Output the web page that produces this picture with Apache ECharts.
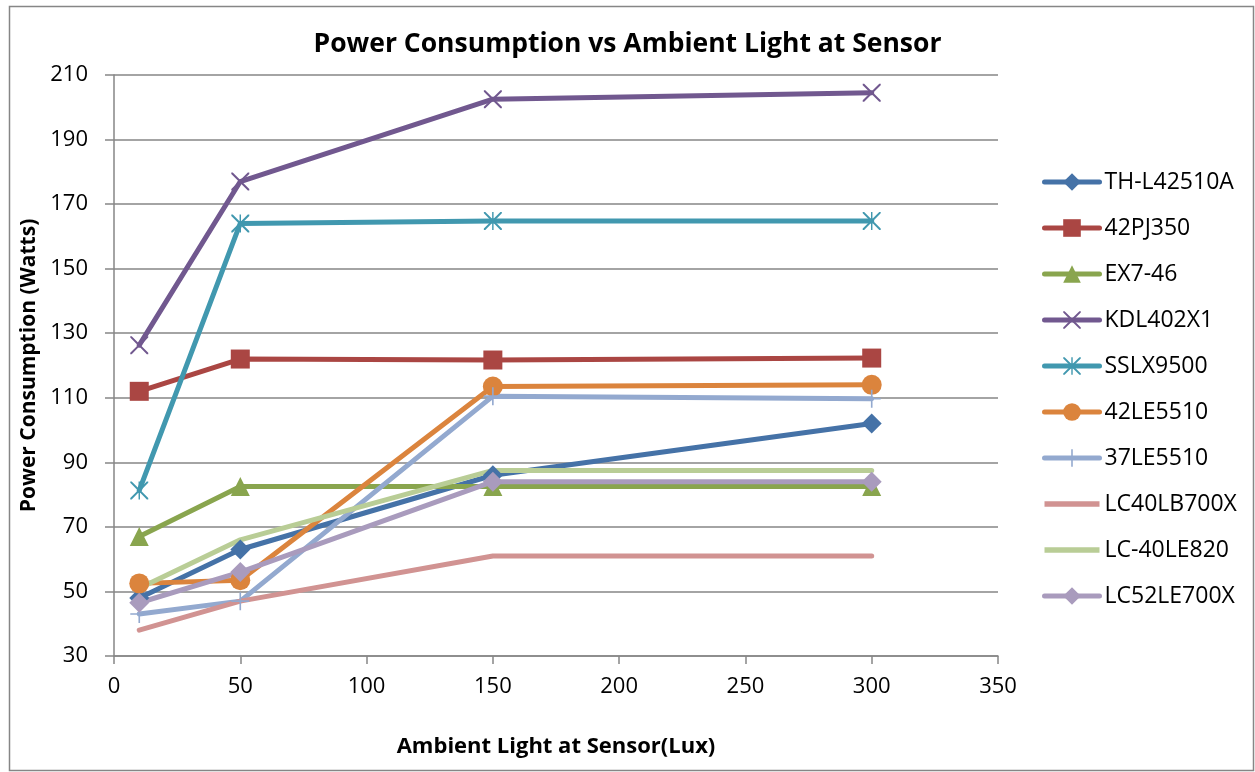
<!DOCTYPE html>
<html><head><meta charset="utf-8">
<script src="https://cdn.jsdelivr.net/npm/echarts@6/dist/echarts.min.js"></script>
<style>html,body{margin:0;padding:0;background:#fff}#c{width:1255px;height:772px}</style>
</head><body><div id="c"></div>
<script>
// ---- data ----
const lux = [10, 50, 150, 300];
const seriesNames = ['TH-L42510A', '42PJ350', 'EX7-46', 'KDL402X1', 'SSLX9500', '42LE5510', '37LE5510', 'LC40LB700X', 'LC-40LE820', 'LC52LE700X'];
const thL42510A = [48, 63, 86, 102];
const pj42_350 = [112, 122, 121.7, 122.3];
const ex7_46 = [67, 82.5, 82.5, 82.5];
const kdl402x1 = [126.3, 177, 202.5, 204.5];
const sslx9500 = [81.3, 164, 164.8, 164.8];
const le42_5510 = [52.5, 53.5, 113.5, 114];
const le37_5510 = [43, 47, 110.5, 109.7];
const lc40lb700x = [38, 47, 61, 61];
const lc40le820 = [51, 66, 87.5, 87.5];
const lc52le700x = [46.5, 56, 84, 84];
const xTicks = [0, 50, 100, 150, 200, 250, 300, 350];
const yTicks = [30, 50, 70, 90, 110, 130, 150, 170, 190, 210];

const values = [thL42510A, pj42_350, ex7_46, kdl402x1, sslx9500, le42_5510, le37_5510, lc40lb700x, lc40le820, lc52le700x];
const colors = ['#4572A7', '#AA4643', '#89A54E', '#71588F', '#4198AF', '#DB843D', '#93A9CF', '#D19392', '#B9CD96', '#A99BBD'];

const X_PATH = 'path://M0,0 L1.6,0 L10,8.4 L18.4,0 L20,0 L20,1.6 L11.6,10 L20,18.4 L20,20 L18.4,20 L10,11.6 L1.6,20 L0,20 L0,18.4 L8.4,10 L0,1.6 Z';
const STAR_PATH = 'path://M0,0 L1.6,0 L10,8.4 L18.4,0 L20,0 L20,1.6 L11.6,10 L20,18.4 L20,20 L18.4,20 L10,11.6 L1.6,20 L0,20 L0,18.4 L8.4,10 L0,1.6 Z M9.2,0 L10.8,0 L10.8,20 L9.2,20 Z';
const PLUS_PATH = 'path://M9.1,0 L10.9,0 L10.9,20 L9.1,20 Z M0,9.1 L20,9.1 L20,10.9 L0,10.9 Z';
const LINE_ICON = 'path://M0,0 L52,0 L52,5 L0,5 Z';
const symbols = ['diamond', 'rect', 'triangle', X_PATH, STAR_PATH, 'circle', PLUS_PATH, 'none', 'none', 'diamond'];
const sizes = [20, 19, 19, 18, 18, 20, 18, 0, 0, 20];

const FONT = 'Open Sans';
const series = seriesNames.map((name, i) => ({
  name: name,
  type: 'line',
  data: lux.map((x, j) => [x, values[i][j]]),
  symbol: symbols[i],
  symbolSize: sizes[i],
  showSymbol: symbols[i] !== 'none',
  lineStyle: { color: colors[i], width: 5, cap: 'round', join: 'round' },
  itemStyle: { color: colors[i] },
  emphasis: { disabled: true },
  animation: false
}));

const legendData = seriesNames.map((name, i) => symbols[i] === 'none'
  ? { name: name, icon: LINE_ICON, itemStyle: { color: colors[i] } }
  : { name: name });

const chart = echarts.init(document.getElementById('c'), null, { renderer: 'canvas' });
chart.setOption({
  animation: false,
  backgroundColor: '#fff',
  color: colors,
  title: {
    text: 'Power Consumption vs Ambient Light at Sensor',
    left: 'center',
    top: 26,
    textStyle: { fontFamily: FONT, fontWeight: 'bold', fontSize: 26.5, color: '#000' }
  },
  graphic: [{
    type: 'rect', left: 7, top: 4, silent: true,
    shape: { width: 1244, height: 764 },
    style: { fill: 'none', stroke: '#868686', lineWidth: 1.5 }
  }],
  grid: { left: 114, right: 257, top: 75, bottom: 116, containLabel: false },
  legend: {
    orient: 'vertical',
    left: 1037,
    top: 164,
    itemWidth: 55,
    itemHeight: 22,
    itemGap: 20,
    symbolKeepAspect: true,
    data: legendData,
    lineStyle: { width: 5 },
    textStyle: { fontFamily: FONT, fontSize: 23, color: '#000', lineHeight: 26 }
  },
  xAxis: {
    type: 'value',
    min: xTicks[0],
    max: xTicks[xTicks.length - 1],
    interval: 50,
    name: 'Ambient Light at Sensor(Lux)',
    nameLocation: 'middle',
    nameGap: 80,
    nameTextStyle: { fontFamily: FONT, fontWeight: 'bold', fontSize: 22, color: '#000' },
    axisLine: { show: true, lineStyle: { color: '#868686', width: 1.5 } },
    axisTick: { show: true, length: 8, lineStyle: { color: '#868686', width: 1.5 } },
    axisLabel: { fontFamily: FONT, fontSize: 22, color: '#000', margin: 20 },
    splitLine: { show: false }
  },
  yAxis: {
    type: 'value',
    min: yTicks[0],
    max: yTicks[yTicks.length - 1],
    interval: 20,
    name: 'Power Consumption (Watts)',
    nameLocation: 'middle',
    nameGap: 66,
    nameTextStyle: { fontFamily: FONT, fontWeight: 'bold', fontSize: 21, color: '#000' },
    axisLine: { show: true, lineStyle: { color: '#868686', width: 1.5 } },
    axisTick: { show: true, length: 9, lineStyle: { color: '#868686', width: 1.5 } },
    axisLabel: { fontFamily: FONT, fontSize: 22, color: '#000', margin: 26 },
    splitLine: { show: true, lineStyle: { color: '#868686', width: 1.5 } }
  },
  series: series
});
</script>
</body></html>
